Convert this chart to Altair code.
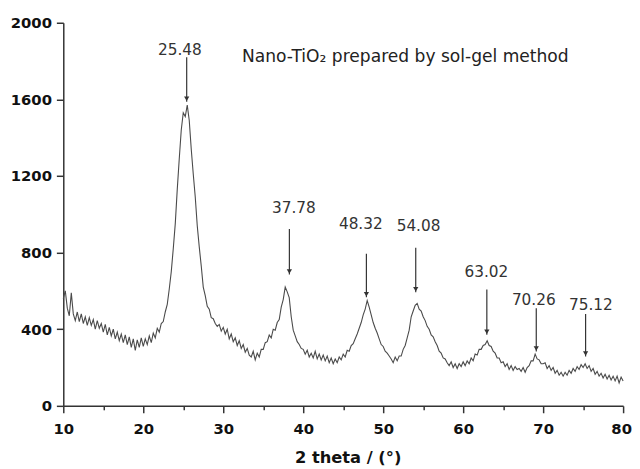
import altair as alt
import pandas as pd

# XRD intensity, 2-theta from 10 to 80 in 0.25 degree steps
intensity = [
    560, 600, 510, 470, 590, 480, 445, 490, 440,               # 10.00 - 12.00
    480, 430, 465, 420, 460, 420, 450, 400,                    # 12.25 - 14.00
    445, 405, 430, 385, 425, 370, 410, 365,                    # 14.25 - 16.00
    400, 350, 385, 340, 375, 330, 370, 320,                    # 16.25 - 18.00
    360, 305, 350, 290, 345, 305, 355, 310,                    # 18.25 - 20.00
    350, 320, 365, 330, 380, 355, 405, 385,                    # 20.25 - 22.00
    430, 440, 490, 530, 610, 700, 820, 950,                    # 22.25 - 24.00
    1130, 1290, 1440, 1530, 1510, 1570, 1490, 1340,            # 24.25 - 26.00
    1210, 1090, 940, 830, 730, 620, 575, 520,                  # 26.25 - 28.00
    505, 460, 455, 430, 415, 425, 390, 410,                    # 28.25 - 30.00
    375, 400, 350, 375, 335, 355, 315, 340,                    # 30.25 - 32.00
    300, 320, 280, 300, 265, 255, 285, 240,                    # 32.25 - 34.00
    275, 255, 295, 295, 330, 335, 370, 355,                    # 34.25 - 36.00
    400, 395, 435, 450, 515, 555, 620, 595,                    # 36.25 - 38.00
    565, 465, 395, 365, 335, 320, 300, 295,                    # 38.25 - 40.00
    270, 290, 255, 275, 250, 285, 245, 270,                    # 40.25 - 42.00
    240, 265, 235, 260, 225, 250, 220, 245,                    # 42.25 - 44.00
    225, 255, 240, 270, 255, 290, 285, 315,                    # 44.25 - 46.00
    325, 350, 375, 405, 435, 475, 505, 550,                    # 46.25 - 48.00
    515, 475, 435, 405, 380, 350, 320, 310,                    # 48.25 - 50.00
    285, 275, 260, 245, 225, 255, 235, 260,                    # 50.25 - 52.00
    260, 295, 315, 355, 395, 465, 495, 525,                    # 52.25 - 54.00
    535, 505, 495, 465, 445, 415, 400, 370,                    # 54.25 - 56.00
    360, 335, 315, 285, 275, 250, 245, 225,                    # 56.25 - 58.00
    210, 230, 200, 220, 195, 220, 205, 230,                    # 58.25 - 60.00
    210, 235, 220, 250, 235, 270, 265, 295,                    # 60.25 - 62.00
    295, 315, 320, 340, 315, 310, 285, 275,                    # 62.25 - 64.00
    250, 250, 225, 230, 205, 220, 190, 210,                    # 64.25 - 66.00
    185, 205, 190, 195, 180, 200, 175, 200,                    # 66.25 - 68.00
    210, 235, 235, 270, 245, 240, 220, 220,                    # 68.25 - 70.00
    225, 195, 210, 185, 200, 170, 185, 160,                    # 70.25 - 72.00
    175, 155, 175, 160, 185, 170, 195, 180,                    # 72.25 - 74.00
    205, 190, 215, 200, 220, 195, 210, 180,                    # 74.25 - 76.00
    195, 165, 180, 155, 170, 145, 165, 140,                    # 76.25 - 78.00
    160, 135, 155, 130, 155, 120, 150, 130,                    # 78.25 - 80.00
]
theta = [10 + 0.25 * i for i in range(len(intensity))]

# peak annotations
peak_labels = ["25.48", "37.78", "48.32", "54.08", "63.02", "70.26", "75.12"]
label_x = [24.57, 38.83, 47.2, 54.42, 62.9, 68.83, 75.96]
label_y = [1858, 1031, 947, 938, 696, 554, 526]
arrow_x = [25.43, 38.27, 47.9, 54.07, 62.96, 69.14, 75.31]
arrow_top = [1820, 923, 794, 825, 608, 510, 479]
arrow_head = [1588, 686, 567, 593, 371, 284, 258]

note_text = "Nano-TiO\u2082 prepared by sol-gel method"

curve = pd.DataFrame({"theta": theta, "intensity": intensity})
peaks = pd.DataFrame({
    "label": peak_labels, "lx": label_x, "ly": label_y,
    "ax": arrow_x, "atop": arrow_top, "ahead": arrow_head,
})

FONT = "DejaVu Sans"

xscale = alt.Scale(domain=[10, 80], nice=False, zero=False)
yscale = alt.Scale(domain=[0, 2000], nice=False)

xaxis = alt.Axis(
    values=list(range(10, 81, 5)),
    labelExpr="datum.value % 10 === 0 ? datum.label : ''",
    tickSize={"condition": {"test": "datum.value % 10 === 0", "value": 7}, "value": 4},
    labelOffset={"condition": {"test": "datum.value === 80", "value": -2}, "value": 0},
    labelFont=FONT, labelFontSize=15, labelFontWeight="bold", labelColor="#111",
    labelPadding=9, labelFlush=False, grid=False,
    domainColor="#333", domainWidth=1.5, tickColor="#333", tickWidth=1.5,
    title="2 theta / (°)", titleFont=FONT, titleFontSize=16.5, titleFontWeight="bold",
    titleColor="#111", titleX=288, titleY=52, titleBaseline="middle",
)
yaxis = alt.Axis(
    values=list(range(0, 2001, 200)),
    labelExpr="datum.value % 400 === 0 ? datum.label : ''",
    tickSize={"condition": {"test": "datum.value % 400 === 0", "value": 7}, "value": 4},
    labelFont=FONT, labelFontSize=15, labelFontWeight="bold", labelColor="#111",
    labelPadding=5, labelFlush=False, grid=False, format="d",
    domainColor="#333", domainWidth=1.5, tickColor="#333", tickWidth=1.5,
    title=None,
)

line = alt.Chart(curve).mark_line(color="#4a4a4a", strokeWidth=1.1).encode(
    x=alt.X("theta:Q", scale=xscale, axis=xaxis),
    y=alt.Y("intensity:Q", scale=yscale, axis=yaxis),
)

base = alt.Chart(peaks)
rules = base.mark_rule(color="#333", strokeWidth=1.2).encode(
    x="ax:Q", y="atop:Q", y2="ahead:Q"
)
heads = base.mark_point(shape="triangle-down", filled=True, color="#333",
                        size=28, opacity=1, yOffset=-3).encode(
    x="ax:Q", y="ahead:Q"
)
labels = base.mark_text(font=FONT, fontSize=15.5, color="#333").encode(
    x="lx:Q", y="ly:Q", text="label:N"
)

note = pd.DataFrame({"x": [32.35], "y": [1820], "t": [note_text]})
note_mark = alt.Chart(note).mark_text(
    font=FONT, fontSize=17.3, color="#222", align="left", baseline="middle"
).encode(x="x:Q", y="y:Q", text="t:N")

chart = alt.layer(line, rules, heads, labels, note_mark).properties(
    width=567, height=388,
    autosize=alt.AutoSizeParams(type="none"),
    padding={"left": 56, "top": 12, "right": 9, "bottom": 60},
).configure_view(stroke=None)

chart.save("out.html", embed_options={"renderer": "svg", "actions": False})
